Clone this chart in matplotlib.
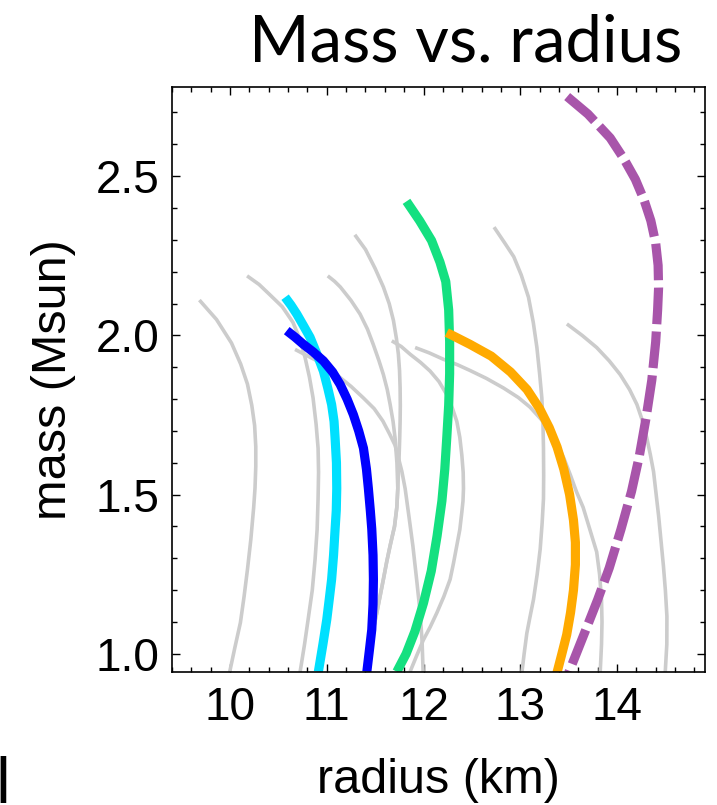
import matplotlib
matplotlib.use("Agg")
from matplotlib import pyplot as plt
from matplotlib.ticker import MultipleLocator

plt.rcParams['font.family'] = ['Liberation Sans', 'DejaVu Sans']

# grey background curves (radius km, mass Msun)
g1_r = [9.683, 9.86, 10.015, 10.11, 10.18, 10.225, 10.254, 10.266, 10.266, 10.258, 10.244, 10.215, 10.18, 10.145, 10.107, 10.05, 9.996]
g1_m = [2.111, 2.05, 1.976, 1.91, 1.847, 1.78, 1.717, 1.65, 1.589, 1.52, 1.459, 1.36, 1.265, 1.18, 1.098, 1.02, 0.943]
g2_r = [10.176, 10.30, 10.414, 10.54, 10.65, 10.72, 10.776, 10.82, 10.858, 10.89, 10.91, 10.915, 10.91, 10.90, 10.879, 10.85, 10.807, 10.77, 10.724]
g2_m = [2.187, 2.16, 2.127, 2.09, 2.041, 1.99, 1.930, 1.87, 1.804, 1.72, 1.646, 1.57, 1.487, 1.39, 1.297, 1.20, 1.108, 1.03, 0.943]
g3_r = [10.672, 10.90, 11.10, 11.25, 11.377, 11.49, 11.58, 11.65, 11.706, 11.745, 11.776, 11.81, 11.85, 11.89, 11.93, 11.965, 11.985, 11.996]
g3_m = [1.956, 1.92, 1.877, 1.84, 1.804, 1.77, 1.731, 1.69, 1.655, 1.61, 1.573, 1.519, 1.43, 1.339, 1.23, 1.13, 1.04, 0.943]
g4_r = [11.01, 11.08, 11.14, 11.25, 11.344, 11.42, 11.48, 11.54, 11.585, 11.625, 11.655, 11.685, 11.706, 11.725, 11.734,
        11.724, 11.70, 11.655, 11.62, 11.585, 11.55, 11.517, 11.48, 11.448, 11.414]
g4_m = [2.187, 2.17, 2.152, 2.11, 2.067, 2.02, 1.972, 1.92, 1.877, 1.83, 1.783, 1.73, 1.677, 1.60, 1.519,
        1.46, 1.40, 1.34, 1.29, 1.234, 1.18, 1.129, 1.075, 1.023, 0.944]
g5_r = [11.29, 11.40, 11.50, 11.585, 11.645, 11.689, 11.72, 11.74, 11.752, 11.758, 11.76, 11.758, 11.754, 11.748, 11.734,
        11.724, 11.70, 11.655, 11.62, 11.585, 11.55, 11.517, 11.48, 11.448, 11.414]
g5_m = [2.316, 2.27, 2.21, 2.152, 2.10, 2.047, 1.99, 1.941, 1.89, 1.835, 1.78, 1.730, 1.68, 1.624, 1.519,
        1.46, 1.40, 1.34, 1.29, 1.234, 1.18, 1.129, 1.075, 1.023, 0.944]
g6_r = [11.672, 11.77, 11.861, 11.97, 12.068, 12.16, 12.24, 12.30, 12.344, 12.375, 12.396, 12.41, 12.413, 12.408, 12.396,
        12.375, 12.344, 12.31, 12.275, 12.21, 12.138, 12.07, 11.999, 11.93, 11.861]
g6_m = [1.983, 1.965, 1.941, 1.915, 1.888, 1.855, 1.814, 1.77, 1.730, 1.68, 1.624, 1.57, 1.519, 1.48, 1.445,
        1.39, 1.34, 1.285, 1.234, 1.18, 1.129, 1.085, 1.044, 0.995, 0.944]
g7_r = [11.913, 12.06, 12.206, 12.35, 12.48, 12.65, 12.826, 12.98, 13.10, 13.22, 13.30, 13.38, 13.45, 13.52, 13.58,
        13.65, 13.72, 13.79, 13.82, 13.84, 13.845, 13.84, 13.826]
g7_m = [1.962, 1.945, 1.925, 1.908, 1.89, 1.865, 1.835, 1.805, 1.775, 1.735, 1.70, 1.66, 1.615, 1.56, 1.51,
        1.46, 1.39, 1.32, 1.25, 1.17, 1.10, 1.03, 0.94]
g8_r = [12.729, 12.84, 12.933, 13.01, 13.085, 13.135, 13.172, 13.20, 13.223, 13.235, 13.24, 13.242, 13.24, 13.226, 13.206,
        13.175, 13.137, 13.10, 13.068, 13.04, 13.016]
g8_m = [2.34, 2.29, 2.247, 2.19, 2.12, 2.04, 1.962, 1.88, 1.804, 1.72, 1.646, 1.56, 1.487, 1.41, 1.329,
        1.25, 1.171, 1.115, 1.065, 1.00, 0.939]
g9_r = [13.482, 13.64, 13.79, 13.92, 14.033, 14.13, 14.206, 14.265, 14.309, 14.345, 14.378, 14.405, 14.43, 14.455, 14.48,
        14.50, 14.516, 14.515, 14.498]
g9_m = [2.036, 2.0, 1.962, 1.92, 1.877, 1.83, 1.783, 1.73, 1.677, 1.625, 1.572, 1.50, 1.434, 1.355, 1.276,
        1.20, 1.118, 1.03, 0.939]
grey_r = [g1_r, g2_r, g3_r, g4_r, g5_r, g6_r, g7_r, g8_r, g9_r]
grey_m = [g1_m, g2_m, g3_m, g4_m, g5_m, g6_m, g7_m, g8_m, g9_m]

# highlighted curves
cyan_r = [10.569, 10.63, 10.69, 10.76, 10.827, 10.90, 10.965, 11.01, 11.05, 11.075, 11.086, 11.10, 11.103, 11.098, 11.086,
          11.07, 11.05, 11.025, 11.0, 10.96, 10.913]
cyan_m = [2.12, 2.095, 2.067, 2.03, 1.994, 1.94, 1.888, 1.835, 1.783, 1.73, 1.677, 1.60, 1.519, 1.45, 1.392,
          1.31, 1.234, 1.17, 1.108, 1.03, 0.944]
blue_r = [10.586, 10.67, 10.758, 10.86, 10.965, 11.06, 11.138, 11.21, 11.275, 11.33, 11.379, 11.41, 11.43, 11.45, 11.465,
          11.478, 11.482, 11.478, 11.465, 11.44, 11.414]
blue_m = [2.015, 1.995, 1.972, 1.948, 1.92, 1.885, 1.846, 1.80, 1.751, 1.70, 1.646, 1.58, 1.519, 1.45, 1.392,
          1.31, 1.234, 1.155, 1.076, 1.01, 0.944]
green_r = [11.824, 11.96, 12.083, 12.17, 12.23, 12.26, 12.27, 12.27, 12.26, 12.24, 12.22, 12.19, 12.14, 12.08, 12.00,
           11.91, 11.82, 11.724]
green_m = [2.421, 2.36, 2.298, 2.23, 2.169, 2.08, 1.98, 1.88, 1.78, 1.677, 1.58, 1.48, 1.37, 1.26, 1.16,
           1.07, 1.00, 0.944]
orange_r = [12.24, 12.48, 12.70, 12.90, 13.07, 13.20, 13.30, 13.38, 13.45, 13.51, 13.55, 13.57, 13.57, 13.55, 13.52,
            13.48, 13.43, 13.378]
orange_m = [2.009, 1.972, 1.935, 1.885, 1.83, 1.77, 1.71, 1.65, 1.58, 1.50, 1.42, 1.35, 1.28, 1.20, 1.13,
            1.06, 1.00, 0.939]
purple_r = [13.485, 13.70, 13.93, 14.07, 14.19, 14.28, 14.35, 14.40, 14.425, 14.43, 14.42, 14.40, 14.36, 14.30, 14.23,
            14.15, 14.04, 13.92, 13.80, 13.67, 13.50]
purple_m = [2.75, 2.695, 2.62, 2.555, 2.49, 2.425, 2.36, 2.29, 2.22, 2.15, 2.08, 1.98, 1.86, 1.74, 1.62,
            1.51, 1.39, 1.27, 1.17, 1.07, 0.94]

fig = plt.figure(figsize=(7.17, 8.05), dpi=100)
ax = fig.add_axes([0.2399, 0.1652, 0.7434, 0.7267])

for r, m in zip(grey_r, grey_m):
    ax.plot(r, m, color='#cccccc', lw=2.6, solid_capstyle='butt', solid_joinstyle='round')

ax.plot(cyan_r, cyan_m, color='#00e0ff', lw=6.6, solid_capstyle='butt', solid_joinstyle='round')
ax.plot(blue_r, blue_m, color='#0000ff', lw=6.6, solid_capstyle='butt', solid_joinstyle='round')
ax.plot(green_r, green_m, color='#14e080', lw=6.6, solid_capstyle='butt', solid_joinstyle='round')
ax.plot(orange_r, orange_m, color='#ffaa00', lw=6.6, solid_capstyle='butt', solid_joinstyle='round')
ax.plot(purple_r, purple_m, color='#a855aa', lw=6.6, dashes=(4.0, 0.8))

ax.set_xlim(9.40, 14.91)
ax.set_ylim(0.943, 2.78)
ax.xaxis.set_major_locator(MultipleLocator(1))
ax.xaxis.set_minor_locator(MultipleLocator(0.2))
ax.yaxis.set_major_locator(MultipleLocator(0.5))
ax.yaxis.set_minor_locator(MultipleLocator(0.1))
ax.xaxis.set_major_formatter(plt.FormatStrFormatter('%d'))
ax.yaxis.set_major_formatter(plt.FormatStrFormatter('%.1f'))
ax.tick_params(which='both', direction='in', top=True, right=True, width=1.0, labelsize=33)
ax.tick_params(which='major', length=5.5)
ax.tick_params(which='minor', length=3.5)
ax.tick_params(axis='x', pad=10)
ax.tick_params(axis='y', pad=9)
for s in ax.spines.values():
    s.set_linewidth(1.2)

ax.set_xlabel('radius (km)', fontsize=35, labelpad=20)
ax.set_ylabel('mass (Msun)', fontsize=35, labelpad=14)

fig.text(0.649, 0.924, 'Mass vs. radius', fontsize=47, family=['Lato', 'DejaVu Sans'],
         ha='center', va='baseline')
fig.text(-0.007, 0.003, 'l', fontsize=45, family=['Lato', 'DejaVu Sans'], ha='left', va='baseline')

fig.savefig('out.png', dpi=100)
